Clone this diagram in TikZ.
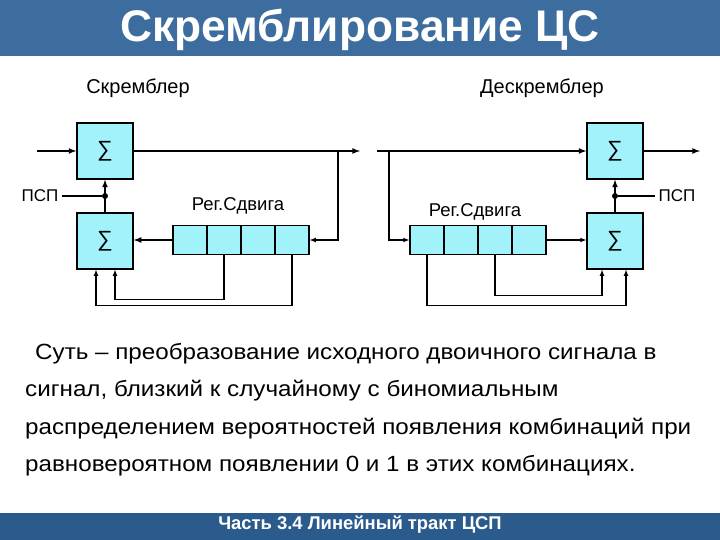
\documentclass[tikz,border=0pt]{standalone}
\usepackage{fontspec}
\setmainfont{Liberation Sans}
\newfontfamily\bodyfont{Liberation Sans}[FakeStretch=1.1]
\usepackage{tikz}
\usetikzlibrary{arrows,positioning}

\definecolor{barblue}{HTML}{3D6D9E}
\definecolor{footblue}{HTML}{2B5B8C}
\definecolor{boxcyan}{HTML}{A2F2FB}

\tikzset{
  sumbox/.style={draw,fill=boxcyan,line width=1.3pt,minimum width=56pt,minimum height=56pt,inner sep=0pt,font=\fontsize{22}{22}\selectfont},
  regcell/.style={draw,fill=boxcyan,line width=1.3pt,minimum width=34pt,minimum height=29pt,inner sep=0pt},
  junction/.style={circle,fill,inner sep=0pt,minimum size=6pt},
  lbl/.style={font=\fontsize{17}{17}\selectfont,inner sep=0pt},
  body/.style={font=\bodyfont\fontsize{22}{22}\selectfont,inner sep=0pt,anchor=base west},
  sig/.style={line width=1.6pt,-latex},
  tap/.style={line width=1.1pt,-latex}
}

\begin{document}
\begin{tikzpicture}[x=1pt,y=-1pt]
        \useasboundingbox (0,0) rectangle (720,540);
        \fill[barblue] (0,0) rectangle (720,56);
        \fill[footblue] (0,513) rectangle (720,540);
        \node[text=white,inner sep=0pt,font=\fontsize{44.3}{44}\selectfont\bfseries] (title) at (360,30) {Скремблирование ЦС};
        \node[text=white,inner sep=0pt,font=\fontsize{18.4}{18}\selectfont\bfseries] (foot) at (360,525) {Часть 3.4 Линейный тракт ЦСП};

        \node[lbl,font=\fontsize{20}{20}\selectfont] (scr) at (138,88) {Скремблер};
        \node[lbl,font=\fontsize{20}{20}\selectfont] (descr) at (542,88) {Дескремблер};

        % scrambler
        \node[sumbox] (sumA) at (105,151) {∑};
        \node[sumbox] (sumB) at ([shift={+(0,90)}]sumA) {∑};
        \node[regcell] (regA1) at (190,240) {};
        \node[regcell] (regA2) at ([shift={+(34,0)}]regA1) {};
        \node[regcell] (regA3) at ([shift={+(34,0)}]regA2) {};
        \node[regcell] (regA4) at ([shift={+(34,0)}]regA3) {};
        \node[lbl,font=\fontsize{18.5}{18}\selectfont] (regAlbl) at (238,206) {Рег.Сдвига};
        \node[junction] (dotA) at (105,196) {};
        \node[lbl] (pspA) at (40,196) {ПСП};
        \coordinate (inA) at (37,151);
        \coordinate (outA) at (360,151);
        \coordinate (brA) at (338,151);
        \draw[sig] (inA)--(sumA);
        \draw[sig] (sumA)--(outA);
        \draw[tap] (brA) |- (regA4.east);
        \draw[sig] (regA1.west)--(regA1.west -| sumB.east);
        \draw[sig] (sumB)--(sumA);
        \draw[line width=1.1pt] ([xshift=3pt]pspA.east)--(dotA);
        \draw[tap] (regA2.south) -- ++(0,44) -| ([xshift=10pt]sumB.south);
        \draw[tap] (regA4.south) -- ++(0,50) -| ([xshift=-9pt]sumB.south);

        % descrambler
        \node[sumbox] (sumC) at (615,151) {∑};
        \node[sumbox] (sumD) at ([shift={+(0,90)}]sumC) {∑};
        \node[regcell] (regB1) at (427,240) {};
        \node[regcell] (regB2) at ([shift={+(34,0)}]regB1) {};
        \node[regcell] (regB3) at ([shift={+(34,0)}]regB2) {};
        \node[regcell] (regB4) at ([shift={+(34,0)}]regB3) {};
        \node[lbl,font=\fontsize{18.5}{18}\selectfont] (regBlbl) at (475,212) {Рег.Сдвига};
        \node[junction] (dotC) at (615,196) {};
        \node[lbl] (pspC) at (677,196) {ПСП};
        \coordinate (inC) at (377,151);
        \coordinate (outC) at (700,151);
        \coordinate (brC) at (389,151);
        \draw[sig] (inC)--(sumC);
        \draw[sig] (sumC)--(outC);
        \draw[tap] (brC) |- (regB1.west);
        \draw[tap] (regB4.east)--(regB4.east -| sumD.west);
        \draw[sig] (sumD)--(sumC);
        \draw[line width=1.1pt] (dotC)--([xshift=-3pt]pspC.west);
        \draw[tap] (regB1.south) -- ++(0,50) -| ([xshift=11pt]sumD.south);
        \draw[tap] (regB3.south) -- ++(0,40) -| ([xshift=-13pt]sumD.south);

        % text
        \node[body] (line1) at (35,359) {Суть – преобразование исходного двоичного сигнала в};
        \node[body] (line2) at (25,396) {сигнал, близкий к случайному с биномиальным};
        \node[body] (line3) at (25,434) {распределением вероятностей появления комбинаций при};
        \node[body] (line4) at (25,471) {равновероятном появлении 0 и 1 в этих комбинациях.};
    \end{tikzpicture}
\end{document}
